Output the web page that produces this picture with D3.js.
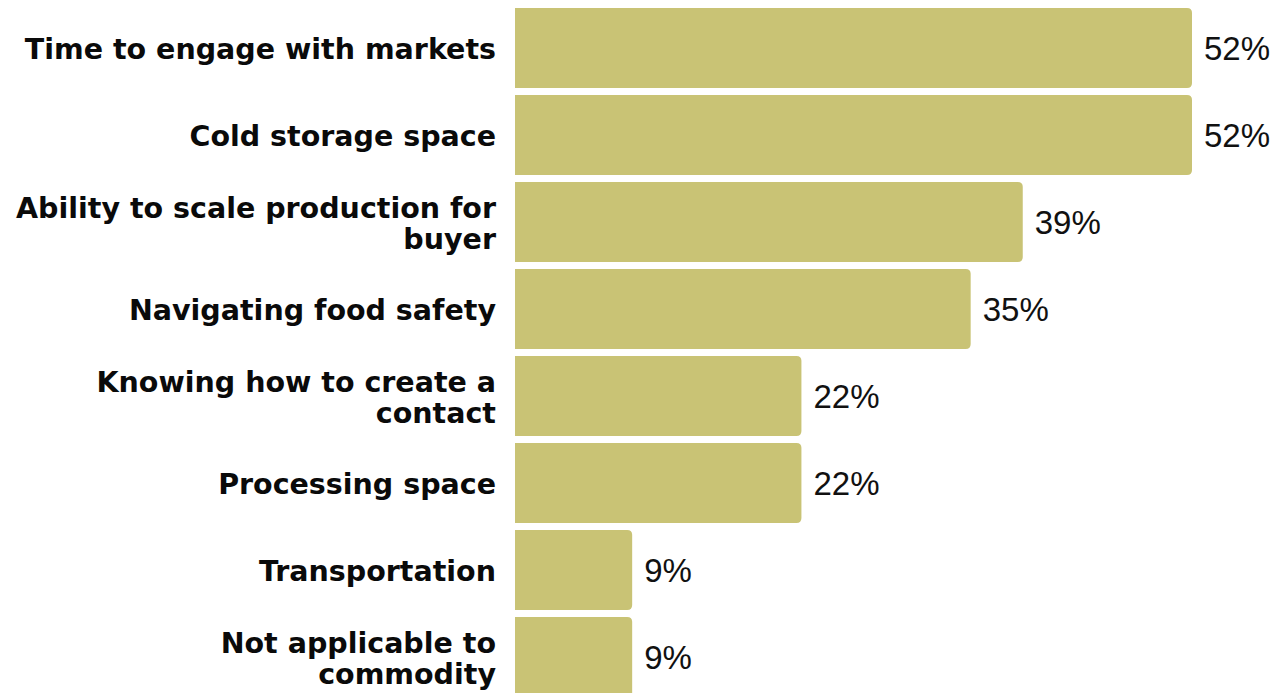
<!DOCTYPE html>
<html>
<head>
<meta charset="utf-8">
<script src="https://cdn.jsdelivr.net/npm/d3@7"></script>
<style>
  html, body { margin: 0; padding: 0; background: #ffffff; }
  svg { display: block; }
</style>
</head>
<body>
<script>
// Barriers reported by respondents (share of responses)
const categories = [
  "Time to engage with markets",
  "Cold storage space",
  "Ability to scale production for buyer",
  "Navigating food safety",
  "Knowing how to create a contact",
  "Processing space",
  "Transportation",
  "Not applicable to commodity"
];
const values = [0.52, 0.52, 0.39, 0.35, 0.22, 0.22, 0.09, 0.09];
// How each category label wraps onto lines
const labelLines = [
  ["Time to engage with markets"],
  ["Cold storage space"],
  ["Ability to scale production for", "buyer"],
  ["Navigating food safety"],
  ["Knowing how to create a", "contact"],
  ["Processing space"],
  ["Transportation"],
  ["Not applicable to", "commodity"]
];

const W = 1284, H = 693;
const barColor = "#C9C375";

const svg = d3.select("body").append("svg")
  .attr("width", W).attr("height", H);

const x = d3.scaleLinear().domain([0, 0.52]).range([515, 1192]);
const y = d3.scaleBand().domain(categories)
  .range([4.5, 700.5]).paddingInner(0.08).paddingOuter(0.04);

const fmt = d3.format(".0%");

// Bar with rounded right-hand corners only
function barPath(x0, x1, y0, h, r) {
  r = Math.min(r, (x1 - x0) / 2, h / 2);
  return `M${x0},${y0}H${x1 - r}Q${x1},${y0} ${x1},${y0 + r}` +
         `V${y0 + h - r}Q${x1},${y0 + h} ${x1 - r},${y0 + h}H${x0}Z`;
}

const rows = categories.map((c, i) => ({ c, v: values[i], lines: labelLines[i] }));

svg.append("g").selectAll("path").data(rows).join("path")
  .attr("d", d => barPath(x(0), x(d.v), y(d.c), y.bandwidth(), 5))
  .attr("fill", barColor);

// Value labels
svg.append("g").selectAll("text").data(rows).join("text")
  .attr("x", d => x(d.v) + 12)
  .attr("y", d => y(d.c) + y.bandwidth() / 2)
  .attr("dy", "0.36em")
  .attr("font-family", "'Liberation Sans', Arial, sans-serif")
  .attr("font-size", 33)
  .attr("fill", "#111")
  .text(d => fmt(d.v));

// Category labels, right-aligned against the bars; one text per line
const lineH = 31;
const lineRows = rows.flatMap(d => d.lines.map((t, j) => ({
  t, cy: y(d.c) + y.bandwidth() / 2 + (j - (d.lines.length - 1) / 2) * lineH
})));

svg.append("g").selectAll("text").data(lineRows).join("text")
  .attr("text-anchor", "end")
  .attr("x", 496)
  .attr("y", d => d.cy)
  .attr("dy", "0.4em")
  .attr("font-family", "'DejaVu Sans', sans-serif")
  .attr("font-weight", 700)
  .attr("font-size", 28.5)
  .attr("fill", "#0a0a0a")
  .text(d => d.t);
</script>
</body>
</html>
